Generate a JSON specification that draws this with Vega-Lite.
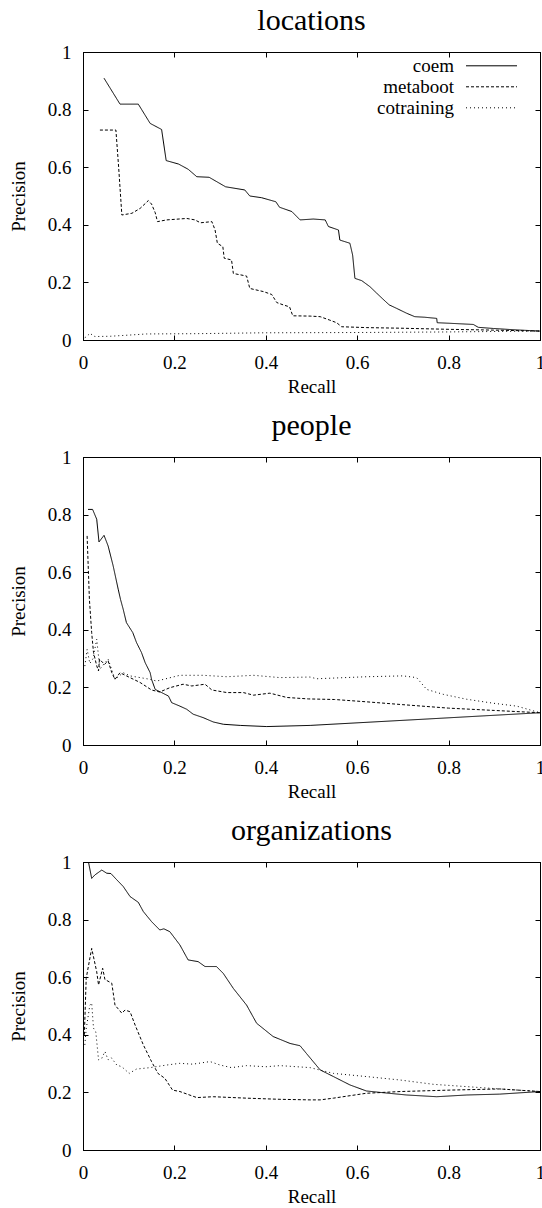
{
  "$schema": "https://vega.github.io/schema/vega-lite/v6.json",
  "background": "white",
  "padding": {"left": 8, "top": 5, "right": 0, "bottom": 0},
  "spacing": 13,
  "config": {
    "font": "Liberation Serif",
    "view": {"stroke": "black", "strokeWidth": 1},
    "axis": {
      "grid": false,
      "domainColor": "black",
      "domainWidth": 1,
      "tickColor": "black",
      "tickWidth": 1,
      "tickSize": -5,
      "labelColor": "black",
      "titleColor": "black",
      "labelFont": "Liberation Serif",
      "titleFont": "Liberation Serif",
      "labelFontSize": 19,
      "titleFontSize": 19,
      "titleFontWeight": "normal",
      "labelFlush": false,
      "labelOverlap": false
    },
    "axisBottom": {"labelPadding": 18.4, "titlePadding": 5},
    "axisLeft": {"labelPadding": 17, "titlePadding": 19},
    "title": {
      "font": "Liberation Serif",
      "fontSize": 30,
      "fontWeight": "normal",
      "color": "black",
      "anchor": "middle",
      "frame": "group",
      "baseline": "alphabetic",
      "offset": 7.4
    },
    "legend": {
      "title": null,
      "orient": "none",
      "legendX": 398,
      "legendY": 3.3,
      "padding": 0,
      "rowPadding": 0,
      "symbolType": "M-2.55,0H2.55",
      "symbolSize": 400,
      "symbolStrokeColor": "black",
      "symbolFillColor": "transparent",
      "symbolStrokeWidth": 1,
      "symbolOffset": 0,
      "labelAlign": "right",
      "labelOffset": -48,
      "labelFont": "Liberation Serif",
      "labelFontSize": 19,
      "labelColor": "black",
      "labelLimit": 0
    }
  },
  "data": {
    "values": [
      {"p": "locations", "s": "coem", "x": 0.046, "y": 0.909},
      {"p": "locations", "s": "coem", "x": 0.081, "y": 0.819},
      {"p": "locations", "s": "coem", "x": 0.121, "y": 0.819},
      {"p": "locations", "s": "coem", "x": 0.147, "y": 0.752},
      {"p": "locations", "s": "coem", "x": 0.172, "y": 0.731},
      {"p": "locations", "s": "coem", "x": 0.182, "y": 0.623},
      {"p": "locations", "s": "coem", "x": 0.209, "y": 0.611},
      {"p": "locations", "s": "coem", "x": 0.23, "y": 0.593},
      {"p": "locations", "s": "coem", "x": 0.249, "y": 0.567},
      {"p": "locations", "s": "coem", "x": 0.276, "y": 0.565},
      {"p": "locations", "s": "coem", "x": 0.312, "y": 0.532},
      {"p": "locations", "s": "coem", "x": 0.354, "y": 0.521},
      {"p": "locations", "s": "coem", "x": 0.365, "y": 0.5},
      {"p": "locations", "s": "coem", "x": 0.391, "y": 0.494},
      {"p": "locations", "s": "coem", "x": 0.422, "y": 0.48},
      {"p": "locations", "s": "coem", "x": 0.43, "y": 0.461},
      {"p": "locations", "s": "coem", "x": 0.457, "y": 0.446},
      {"p": "locations", "s": "coem", "x": 0.475, "y": 0.417},
      {"p": "locations", "s": "coem", "x": 0.504, "y": 0.42},
      {"p": "locations", "s": "coem", "x": 0.53, "y": 0.417},
      {"p": "locations", "s": "coem", "x": 0.537, "y": 0.394},
      {"p": "locations", "s": "coem", "x": 0.559, "y": 0.382},
      {"p": "locations", "s": "coem", "x": 0.562, "y": 0.347},
      {"p": "locations", "s": "coem", "x": 0.584, "y": 0.336},
      {"p": "locations", "s": "coem", "x": 0.59, "y": 0.295},
      {"p": "locations", "s": "coem", "x": 0.595, "y": 0.214},
      {"p": "locations", "s": "coem", "x": 0.61, "y": 0.206},
      {"p": "locations", "s": "coem", "x": 0.628, "y": 0.185},
      {"p": "locations", "s": "coem", "x": 0.643, "y": 0.162},
      {"p": "locations", "s": "coem", "x": 0.657, "y": 0.141},
      {"p": "locations", "s": "coem", "x": 0.67, "y": 0.122},
      {"p": "locations", "s": "coem", "x": 0.686, "y": 0.11},
      {"p": "locations", "s": "coem", "x": 0.708, "y": 0.093},
      {"p": "locations", "s": "coem", "x": 0.726, "y": 0.081},
      {"p": "locations", "s": "coem", "x": 0.748, "y": 0.079},
      {"p": "locations", "s": "coem", "x": 0.774, "y": 0.075},
      {"p": "locations", "s": "coem", "x": 0.775, "y": 0.06},
      {"p": "locations", "s": "coem", "x": 0.803, "y": 0.058},
      {"p": "locations", "s": "coem", "x": 0.854, "y": 0.054},
      {"p": "locations", "s": "coem", "x": 0.865, "y": 0.044},
      {"p": "locations", "s": "coem", "x": 0.898, "y": 0.04},
      {"p": "locations", "s": "coem", "x": 0.949, "y": 0.035},
      {"p": "locations", "s": "coem", "x": 1.0, "y": 0.031},
      {"p": "locations", "s": "metaboot", "x": 0.037, "y": 0.729},
      {"p": "locations", "s": "metaboot", "x": 0.072, "y": 0.729},
      {"p": "locations", "s": "metaboot", "x": 0.078, "y": 0.6},
      {"p": "locations", "s": "metaboot", "x": 0.085, "y": 0.434},
      {"p": "locations", "s": "metaboot", "x": 0.107, "y": 0.44},
      {"p": "locations", "s": "metaboot", "x": 0.125, "y": 0.457},
      {"p": "locations", "s": "metaboot", "x": 0.143, "y": 0.484},
      {"p": "locations", "s": "metaboot", "x": 0.15, "y": 0.472},
      {"p": "locations", "s": "metaboot", "x": 0.158, "y": 0.442},
      {"p": "locations", "s": "metaboot", "x": 0.163, "y": 0.411},
      {"p": "locations", "s": "metaboot", "x": 0.183, "y": 0.417},
      {"p": "locations", "s": "metaboot", "x": 0.227, "y": 0.422},
      {"p": "locations", "s": "metaboot", "x": 0.245, "y": 0.417},
      {"p": "locations", "s": "metaboot", "x": 0.257, "y": 0.407},
      {"p": "locations", "s": "metaboot", "x": 0.282, "y": 0.411},
      {"p": "locations", "s": "metaboot", "x": 0.289, "y": 0.382},
      {"p": "locations", "s": "metaboot", "x": 0.294, "y": 0.336},
      {"p": "locations", "s": "metaboot", "x": 0.306, "y": 0.324},
      {"p": "locations", "s": "metaboot", "x": 0.309, "y": 0.284},
      {"p": "locations", "s": "metaboot", "x": 0.325, "y": 0.278},
      {"p": "locations", "s": "metaboot", "x": 0.329, "y": 0.231},
      {"p": "locations", "s": "metaboot", "x": 0.358, "y": 0.222},
      {"p": "locations", "s": "metaboot", "x": 0.365, "y": 0.179},
      {"p": "locations", "s": "metaboot", "x": 0.395, "y": 0.168},
      {"p": "locations", "s": "metaboot", "x": 0.413, "y": 0.158},
      {"p": "locations", "s": "metaboot", "x": 0.424, "y": 0.13},
      {"p": "locations", "s": "metaboot", "x": 0.438, "y": 0.122},
      {"p": "locations", "s": "metaboot", "x": 0.452, "y": 0.115},
      {"p": "locations", "s": "metaboot", "x": 0.459, "y": 0.084},
      {"p": "locations", "s": "metaboot", "x": 0.497, "y": 0.083},
      {"p": "locations", "s": "metaboot", "x": 0.519, "y": 0.081},
      {"p": "locations", "s": "metaboot", "x": 0.54, "y": 0.069},
      {"p": "locations", "s": "metaboot", "x": 0.555, "y": 0.06},
      {"p": "locations", "s": "metaboot", "x": 0.566, "y": 0.046},
      {"p": "locations", "s": "metaboot", "x": 0.621, "y": 0.043},
      {"p": "locations", "s": "metaboot", "x": 0.694, "y": 0.041},
      {"p": "locations", "s": "metaboot", "x": 0.803, "y": 0.037},
      {"p": "locations", "s": "metaboot", "x": 0.876, "y": 0.035},
      {"p": "locations", "s": "metaboot", "x": 1.0, "y": 0.031},
      {"p": "locations", "s": "cotraining", "x": 0.004, "y": 0.008},
      {"p": "locations", "s": "cotraining", "x": 0.008, "y": 0.012},
      {"p": "locations", "s": "cotraining", "x": 0.015, "y": 0.023},
      {"p": "locations", "s": "cotraining", "x": 0.02, "y": 0.018},
      {"p": "locations", "s": "cotraining", "x": 0.026, "y": 0.012},
      {"p": "locations", "s": "cotraining", "x": 0.06, "y": 0.013},
      {"p": "locations", "s": "cotraining", "x": 0.1, "y": 0.017},
      {"p": "locations", "s": "cotraining", "x": 0.139, "y": 0.021},
      {"p": "locations", "s": "cotraining", "x": 0.25, "y": 0.022},
      {"p": "locations", "s": "cotraining", "x": 0.395, "y": 0.025},
      {"p": "locations", "s": "cotraining", "x": 0.6, "y": 0.026},
      {"p": "locations", "s": "cotraining", "x": 0.8, "y": 0.028},
      {"p": "locations", "s": "cotraining", "x": 1.0, "y": 0.031},

      {"p": "people", "s": "coem", "x": 0.011, "y": 0.818},
      {"p": "people", "s": "coem", "x": 0.021, "y": 0.818},
      {"p": "people", "s": "coem", "x": 0.03, "y": 0.784},
      {"p": "people", "s": "coem", "x": 0.035, "y": 0.705},
      {"p": "people", "s": "coem", "x": 0.046, "y": 0.728},
      {"p": "people", "s": "coem", "x": 0.055, "y": 0.691},
      {"p": "people", "s": "coem", "x": 0.066, "y": 0.622},
      {"p": "people", "s": "coem", "x": 0.077, "y": 0.541},
      {"p": "people", "s": "coem", "x": 0.082, "y": 0.506},
      {"p": "people", "s": "coem", "x": 0.088, "y": 0.471},
      {"p": "people", "s": "coem", "x": 0.095, "y": 0.425},
      {"p": "people", "s": "coem", "x": 0.109, "y": 0.39},
      {"p": "people", "s": "coem", "x": 0.117, "y": 0.356},
      {"p": "people", "s": "coem", "x": 0.128, "y": 0.321},
      {"p": "people", "s": "coem", "x": 0.136, "y": 0.286},
      {"p": "people", "s": "coem", "x": 0.147, "y": 0.251},
      {"p": "people", "s": "coem", "x": 0.15, "y": 0.228},
      {"p": "people", "s": "coem", "x": 0.158, "y": 0.193},
      {"p": "people", "s": "coem", "x": 0.172, "y": 0.182},
      {"p": "people", "s": "coem", "x": 0.187, "y": 0.17},
      {"p": "people", "s": "coem", "x": 0.194, "y": 0.147},
      {"p": "people", "s": "coem", "x": 0.212, "y": 0.135},
      {"p": "people", "s": "coem", "x": 0.227, "y": 0.124},
      {"p": "people", "s": "coem", "x": 0.241, "y": 0.107},
      {"p": "people", "s": "coem", "x": 0.263, "y": 0.095},
      {"p": "people", "s": "coem", "x": 0.285, "y": 0.08},
      {"p": "people", "s": "coem", "x": 0.307, "y": 0.072},
      {"p": "people", "s": "coem", "x": 0.344, "y": 0.068},
      {"p": "people", "s": "coem", "x": 0.402, "y": 0.064},
      {"p": "people", "s": "coem", "x": 0.497, "y": 0.068},
      {"p": "people", "s": "coem", "x": 0.75, "y": 0.09},
      {"p": "people", "s": "coem", "x": 1.0, "y": 0.112},
      {"p": "people", "s": "metaboot", "x": 0.009, "y": 0.726},
      {"p": "people", "s": "metaboot", "x": 0.014, "y": 0.506},
      {"p": "people", "s": "metaboot", "x": 0.019, "y": 0.39},
      {"p": "people", "s": "metaboot", "x": 0.023, "y": 0.321},
      {"p": "people", "s": "metaboot", "x": 0.03, "y": 0.275},
      {"p": "people", "s": "metaboot", "x": 0.034, "y": 0.257},
      {"p": "people", "s": "metaboot", "x": 0.036, "y": 0.298},
      {"p": "people", "s": "metaboot", "x": 0.047, "y": 0.28},
      {"p": "people", "s": "metaboot", "x": 0.055, "y": 0.292},
      {"p": "people", "s": "metaboot", "x": 0.063, "y": 0.251},
      {"p": "people", "s": "metaboot", "x": 0.07, "y": 0.228},
      {"p": "people", "s": "metaboot", "x": 0.081, "y": 0.251},
      {"p": "people", "s": "metaboot", "x": 0.095, "y": 0.24},
      {"p": "people", "s": "metaboot", "x": 0.125, "y": 0.217},
      {"p": "people", "s": "metaboot", "x": 0.15, "y": 0.191},
      {"p": "people", "s": "metaboot", "x": 0.168, "y": 0.184},
      {"p": "people", "s": "metaboot", "x": 0.19, "y": 0.199},
      {"p": "people", "s": "metaboot", "x": 0.219, "y": 0.211},
      {"p": "people", "s": "metaboot", "x": 0.238, "y": 0.205},
      {"p": "people", "s": "metaboot", "x": 0.267, "y": 0.211},
      {"p": "people", "s": "metaboot", "x": 0.282, "y": 0.191},
      {"p": "people", "s": "metaboot", "x": 0.315, "y": 0.182},
      {"p": "people", "s": "metaboot", "x": 0.351, "y": 0.182},
      {"p": "people", "s": "metaboot", "x": 0.373, "y": 0.173},
      {"p": "people", "s": "metaboot", "x": 0.409, "y": 0.18},
      {"p": "people", "s": "metaboot", "x": 0.446, "y": 0.165},
      {"p": "people", "s": "metaboot", "x": 0.493, "y": 0.16},
      {"p": "people", "s": "metaboot", "x": 0.55, "y": 0.158},
      {"p": "people", "s": "metaboot", "x": 0.62, "y": 0.15},
      {"p": "people", "s": "metaboot", "x": 0.7, "y": 0.14},
      {"p": "people", "s": "metaboot", "x": 0.8, "y": 0.128},
      {"p": "people", "s": "metaboot", "x": 0.9, "y": 0.12},
      {"p": "people", "s": "metaboot", "x": 1.0, "y": 0.112},
      {"p": "people", "s": "cotraining", "x": 0.004, "y": 0.274},
      {"p": "people", "s": "cotraining", "x": 0.009, "y": 0.332},
      {"p": "people", "s": "cotraining", "x": 0.015, "y": 0.283},
      {"p": "people", "s": "cotraining", "x": 0.022, "y": 0.3},
      {"p": "people", "s": "cotraining", "x": 0.03, "y": 0.367},
      {"p": "people", "s": "cotraining", "x": 0.037, "y": 0.263},
      {"p": "people", "s": "cotraining", "x": 0.045, "y": 0.28},
      {"p": "people", "s": "cotraining", "x": 0.055, "y": 0.298},
      {"p": "people", "s": "cotraining", "x": 0.07, "y": 0.228},
      {"p": "people", "s": "cotraining", "x": 0.088, "y": 0.251},
      {"p": "people", "s": "cotraining", "x": 0.103, "y": 0.24},
      {"p": "people", "s": "cotraining", "x": 0.147, "y": 0.228},
      {"p": "people", "s": "cotraining", "x": 0.161, "y": 0.222},
      {"p": "people", "s": "cotraining", "x": 0.212, "y": 0.242},
      {"p": "people", "s": "cotraining", "x": 0.263, "y": 0.242},
      {"p": "people", "s": "cotraining", "x": 0.315, "y": 0.237},
      {"p": "people", "s": "cotraining", "x": 0.373, "y": 0.242},
      {"p": "people", "s": "cotraining", "x": 0.431, "y": 0.234},
      {"p": "people", "s": "cotraining", "x": 0.497, "y": 0.236},
      {"p": "people", "s": "cotraining", "x": 0.511, "y": 0.23},
      {"p": "people", "s": "cotraining", "x": 0.62, "y": 0.237},
      {"p": "people", "s": "cotraining", "x": 0.7, "y": 0.24},
      {"p": "people", "s": "cotraining", "x": 0.73, "y": 0.234},
      {"p": "people", "s": "cotraining", "x": 0.752, "y": 0.193},
      {"p": "people", "s": "cotraining", "x": 0.788, "y": 0.176},
      {"p": "people", "s": "cotraining", "x": 0.839, "y": 0.159},
      {"p": "people", "s": "cotraining", "x": 0.898, "y": 0.145},
      {"p": "people", "s": "cotraining", "x": 0.949, "y": 0.135},
      {"p": "people", "s": "cotraining", "x": 1.0, "y": 0.112},

      {"p": "organizations", "s": "coem", "x": 0.012, "y": 1.0},
      {"p": "organizations", "s": "coem", "x": 0.019, "y": 0.943},
      {"p": "organizations", "s": "coem", "x": 0.026, "y": 0.955},
      {"p": "organizations", "s": "coem", "x": 0.041, "y": 0.972},
      {"p": "organizations", "s": "coem", "x": 0.052, "y": 0.961},
      {"p": "organizations", "s": "coem", "x": 0.061, "y": 0.96},
      {"p": "organizations", "s": "coem", "x": 0.074, "y": 0.938},
      {"p": "organizations", "s": "coem", "x": 0.088, "y": 0.915},
      {"p": "organizations", "s": "coem", "x": 0.103, "y": 0.88},
      {"p": "organizations", "s": "coem", "x": 0.121, "y": 0.86},
      {"p": "organizations", "s": "coem", "x": 0.132, "y": 0.828},
      {"p": "organizations", "s": "coem", "x": 0.15, "y": 0.793},
      {"p": "organizations", "s": "coem", "x": 0.168, "y": 0.764},
      {"p": "organizations", "s": "coem", "x": 0.177, "y": 0.768},
      {"p": "organizations", "s": "coem", "x": 0.19, "y": 0.758},
      {"p": "organizations", "s": "coem", "x": 0.212, "y": 0.712},
      {"p": "organizations", "s": "coem", "x": 0.23, "y": 0.66},
      {"p": "organizations", "s": "coem", "x": 0.252, "y": 0.654},
      {"p": "organizations", "s": "coem", "x": 0.267, "y": 0.637},
      {"p": "organizations", "s": "coem", "x": 0.292, "y": 0.637},
      {"p": "organizations", "s": "coem", "x": 0.307, "y": 0.613},
      {"p": "organizations", "s": "coem", "x": 0.329, "y": 0.561},
      {"p": "organizations", "s": "coem", "x": 0.358, "y": 0.503},
      {"p": "organizations", "s": "coem", "x": 0.38, "y": 0.44},
      {"p": "organizations", "s": "coem", "x": 0.416, "y": 0.394},
      {"p": "organizations", "s": "coem", "x": 0.453, "y": 0.37},
      {"p": "organizations", "s": "coem", "x": 0.475, "y": 0.362},
      {"p": "organizations", "s": "coem", "x": 0.489, "y": 0.335},
      {"p": "organizations", "s": "coem", "x": 0.519, "y": 0.278},
      {"p": "organizations", "s": "coem", "x": 0.548, "y": 0.255},
      {"p": "organizations", "s": "coem", "x": 0.584, "y": 0.226},
      {"p": "organizations", "s": "coem", "x": 0.62, "y": 0.205},
      {"p": "organizations", "s": "coem", "x": 0.65, "y": 0.2},
      {"p": "organizations", "s": "coem", "x": 0.708, "y": 0.191},
      {"p": "organizations", "s": "coem", "x": 0.774, "y": 0.185},
      {"p": "organizations", "s": "coem", "x": 0.84, "y": 0.191},
      {"p": "organizations", "s": "coem", "x": 0.912, "y": 0.194},
      {"p": "organizations", "s": "coem", "x": 1.0, "y": 0.203},
      {"p": "organizations", "s": "metaboot", "x": 0.003, "y": 0.4},
      {"p": "organizations", "s": "metaboot", "x": 0.007, "y": 0.596},
      {"p": "organizations", "s": "metaboot", "x": 0.019, "y": 0.7},
      {"p": "organizations", "s": "metaboot", "x": 0.03, "y": 0.619},
      {"p": "organizations", "s": "metaboot", "x": 0.034, "y": 0.573},
      {"p": "organizations", "s": "metaboot", "x": 0.043, "y": 0.631},
      {"p": "organizations", "s": "metaboot", "x": 0.048, "y": 0.592},
      {"p": "organizations", "s": "metaboot", "x": 0.063, "y": 0.579},
      {"p": "organizations", "s": "metaboot", "x": 0.07, "y": 0.503},
      {"p": "organizations", "s": "metaboot", "x": 0.077, "y": 0.49},
      {"p": "organizations", "s": "metaboot", "x": 0.085, "y": 0.475},
      {"p": "organizations", "s": "metaboot", "x": 0.092, "y": 0.486},
      {"p": "organizations", "s": "metaboot", "x": 0.103, "y": 0.48},
      {"p": "organizations", "s": "metaboot", "x": 0.114, "y": 0.434},
      {"p": "organizations", "s": "metaboot", "x": 0.132, "y": 0.365},
      {"p": "organizations", "s": "metaboot", "x": 0.15, "y": 0.307},
      {"p": "organizations", "s": "metaboot", "x": 0.164, "y": 0.266},
      {"p": "organizations", "s": "metaboot", "x": 0.179, "y": 0.249},
      {"p": "organizations", "s": "metaboot", "x": 0.196, "y": 0.208},
      {"p": "organizations", "s": "metaboot", "x": 0.212, "y": 0.203},
      {"p": "organizations", "s": "metaboot", "x": 0.249, "y": 0.182},
      {"p": "organizations", "s": "metaboot", "x": 0.285, "y": 0.185},
      {"p": "organizations", "s": "metaboot", "x": 0.358, "y": 0.18},
      {"p": "organizations", "s": "metaboot", "x": 0.431, "y": 0.176},
      {"p": "organizations", "s": "metaboot", "x": 0.497, "y": 0.174},
      {"p": "organizations", "s": "metaboot", "x": 0.519, "y": 0.174},
      {"p": "organizations", "s": "metaboot", "x": 0.548, "y": 0.18},
      {"p": "organizations", "s": "metaboot", "x": 0.62, "y": 0.197},
      {"p": "organizations", "s": "metaboot", "x": 0.694, "y": 0.203},
      {"p": "organizations", "s": "metaboot", "x": 0.803, "y": 0.208},
      {"p": "organizations", "s": "metaboot", "x": 0.912, "y": 0.212},
      {"p": "organizations", "s": "metaboot", "x": 1.0, "y": 0.203},
      {"p": "organizations", "s": "cotraining", "x": 0.004, "y": 0.365},
      {"p": "organizations", "s": "cotraining", "x": 0.007, "y": 0.42},
      {"p": "organizations", "s": "cotraining", "x": 0.015, "y": 0.503},
      {"p": "organizations", "s": "cotraining", "x": 0.019, "y": 0.51},
      {"p": "organizations", "s": "cotraining", "x": 0.023, "y": 0.423},
      {"p": "organizations", "s": "cotraining", "x": 0.028, "y": 0.41},
      {"p": "organizations", "s": "cotraining", "x": 0.034, "y": 0.313},
      {"p": "organizations", "s": "cotraining", "x": 0.041, "y": 0.318},
      {"p": "organizations", "s": "cotraining", "x": 0.048, "y": 0.342},
      {"p": "organizations", "s": "cotraining", "x": 0.055, "y": 0.313},
      {"p": "organizations", "s": "cotraining", "x": 0.062, "y": 0.32},
      {"p": "organizations", "s": "cotraining", "x": 0.074, "y": 0.295},
      {"p": "organizations", "s": "cotraining", "x": 0.085, "y": 0.289},
      {"p": "organizations", "s": "cotraining", "x": 0.101, "y": 0.266},
      {"p": "organizations", "s": "cotraining", "x": 0.117, "y": 0.281},
      {"p": "organizations", "s": "cotraining", "x": 0.147, "y": 0.286},
      {"p": "organizations", "s": "cotraining", "x": 0.183, "y": 0.295},
      {"p": "organizations", "s": "cotraining", "x": 0.212, "y": 0.301},
      {"p": "organizations", "s": "cotraining", "x": 0.24, "y": 0.298},
      {"p": "organizations", "s": "cotraining", "x": 0.278, "y": 0.307},
      {"p": "organizations", "s": "cotraining", "x": 0.3, "y": 0.295},
      {"p": "organizations", "s": "cotraining", "x": 0.325, "y": 0.286},
      {"p": "organizations", "s": "cotraining", "x": 0.358, "y": 0.293},
      {"p": "organizations", "s": "cotraining", "x": 0.4, "y": 0.289},
      {"p": "organizations", "s": "cotraining", "x": 0.431, "y": 0.293},
      {"p": "organizations", "s": "cotraining", "x": 0.497, "y": 0.286},
      {"p": "organizations", "s": "cotraining", "x": 0.548, "y": 0.266},
      {"p": "organizations", "s": "cotraining", "x": 0.62, "y": 0.255},
      {"p": "organizations", "s": "cotraining", "x": 0.694, "y": 0.243},
      {"p": "organizations", "s": "cotraining", "x": 0.767, "y": 0.228},
      {"p": "organizations", "s": "cotraining", "x": 0.84, "y": 0.22},
      {"p": "organizations", "s": "cotraining", "x": 0.912, "y": 0.212},
      {"p": "organizations", "s": "cotraining", "x": 1.0, "y": 0.203}
    ]
  },
  "vconcat": [
    {
      "title": "locations",
      "width": 457,
      "height": 288,
      "transform": [{"filter": {"field": "p", "equal": "locations"}}],
      "layer": [
        {
          "mark": {"type": "line", "color": "black", "strokeWidth": 1},
          "encoding": {
            "x": {"field": "x", "type": "quantitative", "scale": {"domain": [0, 1], "nice": false}, "axis": {"orient": "bottom", "title": "Recall", "values": [0, 0.2, 0.4, 0.6, 0.8, 1], "format": "~g"}},
            "y": {"field": "y", "type": "quantitative", "scale": {"domain": [0, 1], "nice": false}, "axis": {"orient": "left", "title": "Precision", "values": [0, 0.2, 0.4, 0.6, 0.8, 1], "format": "~g"}},
            "strokeDash": {"field": "s", "type": "nominal", "scale": {"domain": ["coem", "metaboot", "cotraining"], "range": [[1, 0], [3, 2], [1, 3]]}}
          }
        },
        {
          "mark": {"type": "point", "opacity": 0},
          "encoding": {
            "x": {"field": "x", "type": "quantitative", "scale": {"domain": [0, 1], "nice": false}, "axis": {"orient": "top", "labels": false, "title": null, "values": [0, 0.2, 0.4, 0.6, 0.8, 1]}},
            "y": {"field": "y", "type": "quantitative", "scale": {"domain": [0, 1], "nice": false}, "axis": {"orient": "right", "labels": false, "title": null, "values": [0, 0.2, 0.4, 0.6, 0.8, 1]}}
          }
        }
      ],
      "resolve": {"axis": {"x": "independent", "y": "independent"}}
    },
    {
      "title": "people",
      "width": 457,
      "height": 288,
      "transform": [{"filter": {"field": "p", "equal": "people"}}],
      "layer": [
        {
          "mark": {"type": "line", "color": "black", "strokeWidth": 1},
          "encoding": {
            "x": {"field": "x", "type": "quantitative", "scale": {"domain": [0, 1], "nice": false}, "axis": {"orient": "bottom", "title": "Recall", "values": [0, 0.2, 0.4, 0.6, 0.8, 1], "format": "~g"}},
            "y": {"field": "y", "type": "quantitative", "scale": {"domain": [0, 1], "nice": false}, "axis": {"orient": "left", "title": "Precision", "values": [0, 0.2, 0.4, 0.6, 0.8, 1], "format": "~g"}},
            "strokeDash": {"field": "s", "type": "nominal", "scale": {"domain": ["coem", "metaboot", "cotraining"], "range": [[1, 0], [3, 2], [1, 3]]}}
          }
        },
        {
          "mark": {"type": "point", "opacity": 0},
          "encoding": {
            "x": {"field": "x", "type": "quantitative", "scale": {"domain": [0, 1], "nice": false}, "axis": {"orient": "top", "labels": false, "title": null, "values": [0, 0.2, 0.4, 0.6, 0.8, 1]}},
            "y": {"field": "y", "type": "quantitative", "scale": {"domain": [0, 1], "nice": false}, "axis": {"orient": "right", "labels": false, "title": null, "values": [0, 0.2, 0.4, 0.6, 0.8, 1]}}
          }
        }
      ],
      "resolve": {"axis": {"x": "independent", "y": "independent"}}
    },
    {
      "title": "organizations",
      "width": 457,
      "height": 288,
      "transform": [{"filter": {"field": "p", "equal": "organizations"}}],
      "layer": [
        {
          "mark": {"type": "line", "color": "black", "strokeWidth": 1},
          "encoding": {
            "x": {"field": "x", "type": "quantitative", "scale": {"domain": [0, 1], "nice": false}, "axis": {"orient": "bottom", "title": "Recall", "values": [0, 0.2, 0.4, 0.6, 0.8, 1], "format": "~g"}},
            "y": {"field": "y", "type": "quantitative", "scale": {"domain": [0, 1], "nice": false}, "axis": {"orient": "left", "title": "Precision", "values": [0, 0.2, 0.4, 0.6, 0.8, 1], "format": "~g"}},
            "strokeDash": {"field": "s", "type": "nominal", "scale": {"domain": ["coem", "metaboot", "cotraining"], "range": [[1, 0], [3, 2], [1, 3]]}}
          }
        },
        {
          "mark": {"type": "point", "opacity": 0},
          "encoding": {
            "x": {"field": "x", "type": "quantitative", "scale": {"domain": [0, 1], "nice": false}, "axis": {"orient": "top", "labels": false, "title": null, "values": [0, 0.2, 0.4, 0.6, 0.8, 1]}},
            "y": {"field": "y", "type": "quantitative", "scale": {"domain": [0, 1], "nice": false}, "axis": {"orient": "right", "labels": false, "title": null, "values": [0, 0.2, 0.4, 0.6, 0.8, 1]}}
          }
        }
      ],
      "resolve": {"axis": {"x": "independent", "y": "independent"}}
    }
  ]
}
